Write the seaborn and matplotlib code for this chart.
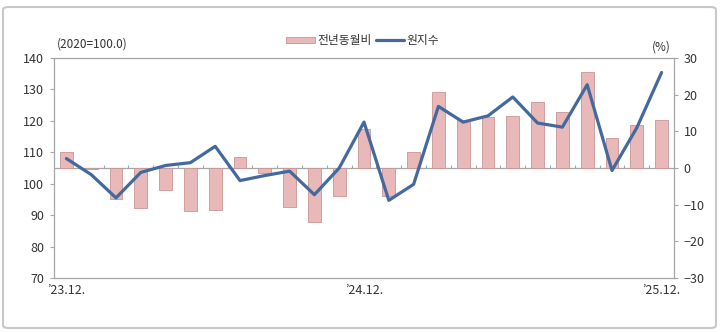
import numpy as np
import pandas as pd
import matplotlib
matplotlib.use("Agg")
import matplotlib.pyplot as plt
from matplotlib.patches import FancyBboxPatch, Patch
from matplotlib.lines import Line2D
import seaborn as sns

months = ["23.12", "24.01", "24.02", "24.03", "24.04", "24.05", "24.06", "24.07",
          "24.08", "24.09", "24.10", "24.11", "24.12", "25.01", "25.02", "25.03",
          "25.04", "25.05", "25.06", "25.07", "25.08", "25.09", "25.10", "25.11", "25.12"]
yoy = [4.4, -0.2, -8.4, -11.0, -6.1, -11.8, -11.4, 3.0, -1.4, -10.7, -14.7, -7.7,
       10.7, -7.7, 4.5, 20.6, 13.0, 13.9, 14.2, 18.1, 15.2, 26.2, 8.1, 11.8, 13.2]
index_vals = [108.0, 102.9, 95.5, 103.6, 105.8, 106.7, 111.9, 101.0, 102.6, 104.0,
              96.5, 105.0, 119.6, 94.7, 99.8, 124.6, 119.6, 121.6, 127.6, 119.3,
              118.0, 131.5, 104.2, 117.8, 135.4]
xtick_pos = [0, 12, 24]
xtick_labels = ["\u201923.12.", "\u201924.12.", "\u201925.12."]
left_ticks = [70, 80, 90, 100, 110, 120, 130, 140]
right_ticks = [-30, -20, -10, 0, 10, 20, 30]
legend_labels = ["전년동월비", "원지수"]

sns.set_style("white")
plt.rcParams['font.family'] = ['Noto Sans CJK KR', 'DejaVu Sans']

BAR = "#E8B9B8"
BAR_EDGE = "#C99594"
LINE = "#44699E"
GRID = "#A6A6A6"
TXT = "#333333"

fig = plt.figure(figsize=(7.2, 3.32), dpi=100)
ax = fig.add_axes([54/720, 54/332, 620/720, 220/332])

df = pd.DataFrame({"month": months, "yoy": yoy, "idx": index_vals})
n = len(months)

sns.barplot(data=df, x="month", y="yoy", ax=ax, color=BAR, saturation=1,
            width=0.52, edgecolor=BAR_EDGE, linewidth=0.6, zorder=2)
ax.set_xlabel("")
ax.set_ylabel("")

ax_l = ax.twinx()
sns.lineplot(x=np.arange(n), y=df["idx"], ax=ax_l, color=LINE, lw=2.3, zorder=3)
ax_l.set_ylabel("")

# right axis: year-on-year %
ax.set_ylim(-30, 30)
ax.set_xlim(-0.5, n - 0.5)
ax.yaxis.tick_right()
ax.yaxis.set_label_position('right')
ax.set_yticks(right_ticks)
ax.set_yticklabels([("\u2212" + str(abs(v))) if v < 0 else str(v) for v in right_ticks])
ax.set_xticks(xtick_pos)
ax.set_xticklabels(xtick_labels)
ax.tick_params(axis='x', length=0, pad=4, labelsize=9, colors=TXT)
ax.tick_params(axis='y', direction='out', length=3, width=0.8, color=GRID,
               pad=4, labelsize=9, labelcolor=TXT)
for s in ax.spines.values():
    s.set_color(GRID)
    s.set_linewidth(0.9)

# zero line with category boundary ticks
ax.axhline(0, color=GRID, lw=0.9, zorder=1)
ax.vlines(np.arange(1, n) - 0.5, 0, 0.8, color=GRID, lw=0.8, zorder=1)

# left axis: index
ax_l.set_ylim(70, 140)
ax_l.yaxis.tick_left()
ax_l.yaxis.set_label_position('left')
ax_l.set_yticks(left_ticks)
ax_l.tick_params(axis='y', direction='out', length=3, width=0.8, color=GRID,
                 pad=4, labelsize=9, labelcolor=TXT)
for s in ax_l.spines.values():
    s.set_visible(False)

ax.text(0.005, 1.064, "(2020=100.0)", transform=ax.transAxes, ha='left', va='center',
        fontsize=8.5, color=TXT)
ax.text(0.979, 1.05, "(%)", transform=ax.transAxes, ha='center', va='center',
        fontsize=8.5, color=TXT)

handles = [Patch(facecolor=BAR, edgecolor=BAR_EDGE, linewidth=0.6),
           Line2D([0], [0], color=LINE, lw=2.3)]
fig.legend(handles, legend_labels, loc='center', bbox_to_anchor=(0.504, 0.878),
           ncol=2, frameon=False, fontsize=8.5, handlelength=2.4, handleheight=0.45,
           handletextpad=0.2, columnspacing=0.4, labelcolor=TXT)

border = FancyBboxPatch((3/720, 4/332), 713/720, 321/332,
                        boxstyle="round,pad=0,rounding_size=0.008",
                        transform=fig.transFigure, fill=False,
                        edgecolor="#C8C8C8", lw=1.5)
fig.patches.append(border)

fig.savefig("out.png", dpi=100)
